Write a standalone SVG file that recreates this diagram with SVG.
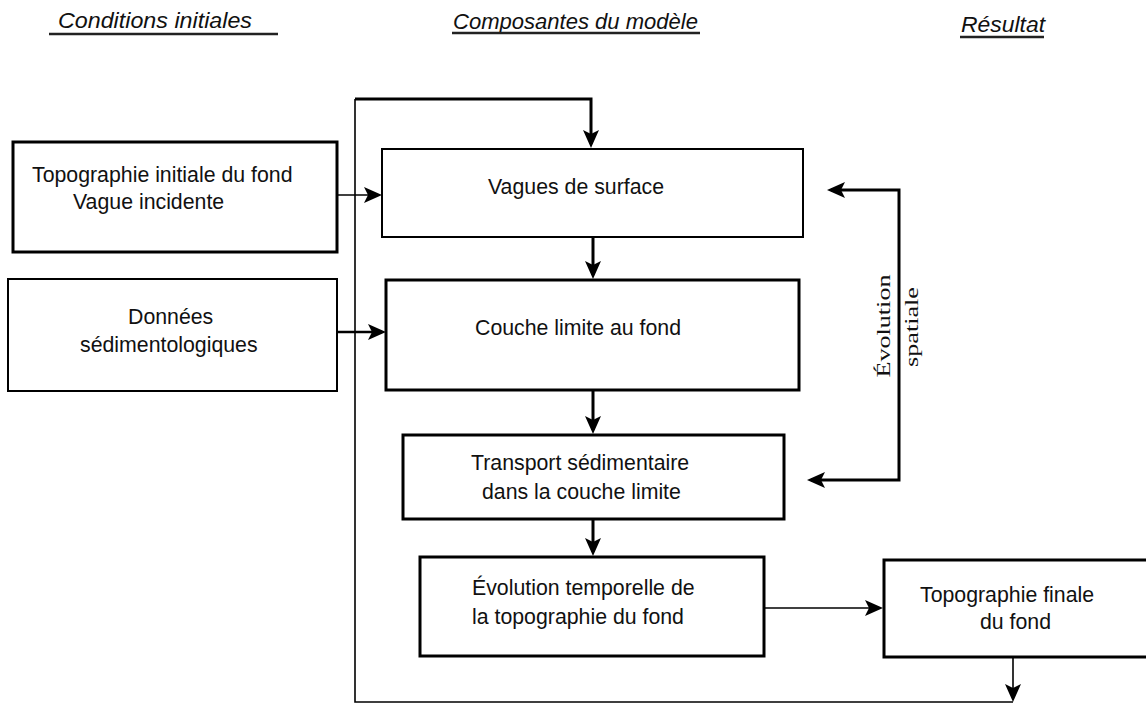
<svg xmlns="http://www.w3.org/2000/svg" width="1146" height="704" viewBox="0 0 1146 704">
  <style>
    .box { fill: #fff; stroke: #000; }
    .t { font-family: "Liberation Sans", Arial, sans-serif; font-size: 21.3px; fill: #111; }
    .h { font-family: "Liberation Sans", Arial, sans-serif; font-size: 22px; font-style: italic; fill: #111; }
    .ul { stroke: #222; stroke-width: 2.5; }
    .c { fill: none; stroke: #000; }
    .thin { stroke-width: 1.6; }
    .thick { stroke-width: 3; }
    .r { font-family: "Liberation Serif", "Times New Roman", serif; font-size: 19px; fill: #111; }
  </style>
  <defs>
    <marker id="ah" markerUnits="userSpaceOnUse" markerWidth="19" markerHeight="18" refX="14" refY="8" orient="auto-start-reverse" overflow="visible">
      <path d="M0,0 L18,8 L0,16 L4,8 z" fill="#000"/>
    </marker>
  </defs>
  <rect width="1146" height="704" fill="#fff"/>

  <g id="headers">
    <text class="h" x="58" y="28" textLength="194" lengthAdjust="spacingAndGlyphs">Conditions initiales</text>
    <line class="ul" x1="49" y1="34" x2="278" y2="34"/>
    <text class="h" x="453" y="29" textLength="245" lengthAdjust="spacingAndGlyphs">Composantes du modèle</text>
    <line class="ul" x1="452" y1="33" x2="700" y2="33"/>
    <text class="h" x="961" y="32" textLength="84" lengthAdjust="spacingAndGlyphs">Résultat</text>
    <line class="ul" x1="960" y1="37" x2="1044" y2="37"/>
  </g>

  <g id="connectors">
    <path class="c thin" d="M338,195 H378" marker-end="url(#ah)"/>
    <path class="c" stroke-width="2.5" d="M338,332 H382" marker-end="url(#ah)"/>
    <path class="c thin" d="M1013,702 H355 V99"/>
    <path class="c thick" d="M355,99 H591 V144" marker-end="url(#ah)"/>
    <path class="c thick" d="M593,237 V275" marker-end="url(#ah)"/>
    <path class="c thick" d="M593,390 V430" marker-end="url(#ah)"/>
    <path class="c thick" d="M593,519 V552" marker-end="url(#ah)"/>
    <path class="c thin" d="M764,608 H879" marker-end="url(#ah)"/>
    <path class="c thin" d="M1013,657 V698" marker-end="url(#ah)"/>
    <path class="c thick" d="M831,190 H899 V480 H811" marker-start="url(#ah)" marker-end="url(#ah)"/>
  </g>

  <g id="label-evolution-spatiale">
    <text class="r" transform="translate(890,326) rotate(-90)" x="-51.5" y="0" textLength="103" lengthAdjust="spacingAndGlyphs">Évolution</text>
    <text class="r" transform="translate(918,327) rotate(-90)" x="-40" y="0" textLength="80" lengthAdjust="spacingAndGlyphs">spatiale</text>
  </g>

  <g id="topo-initiale">
    <rect class="box" x="13" y="142" width="324" height="110" stroke-width="3"/>
    <text class="t" x="32" y="182">Topographie initiale du fond</text>
    <text class="t" x="73" y="209">Vague incidente</text>
  </g>

  <g id="donnees">
    <rect class="box" x="8" y="279" width="329" height="112" stroke-width="2"/>
    <text class="t" x="128" y="324">Données</text>
    <text class="t" x="80" y="352">sédimentologiques</text>
  </g>

  <g id="vagues">
    <rect class="box" x="382" y="149" width="421" height="88" stroke-width="2"/>
    <text class="t" x="488" y="194">Vagues de surface</text>
  </g>

  <g id="couche">
    <rect class="box" x="386" y="280" width="413" height="110" stroke-width="3"/>
    <text class="t" x="475" y="335">Couche limite au fond</text>
  </g>

  <g id="transport">
    <rect class="box" x="403" y="435" width="381" height="84" stroke-width="3"/>
    <text class="t" x="471" y="470">Transport sédimentaire</text>
    <text class="t" x="482" y="499">dans la couche limite</text>
  </g>

  <g id="evolution-temporelle">
    <rect class="box" x="420" y="557" width="344" height="99" stroke-width="3"/>
    <text class="t" x="472" y="595">Évolution temporelle de</text>
    <text class="t" x="472" y="624">la topographie du fond</text>
  </g>

  <g id="topo-finale">
    <rect class="box" x="884" y="560" width="270" height="97" stroke-width="3"/>
    <text class="t" x="920" y="602">Topographie finale</text>
    <text class="t" x="980" y="629">du fond</text>
  </g>
</svg>
